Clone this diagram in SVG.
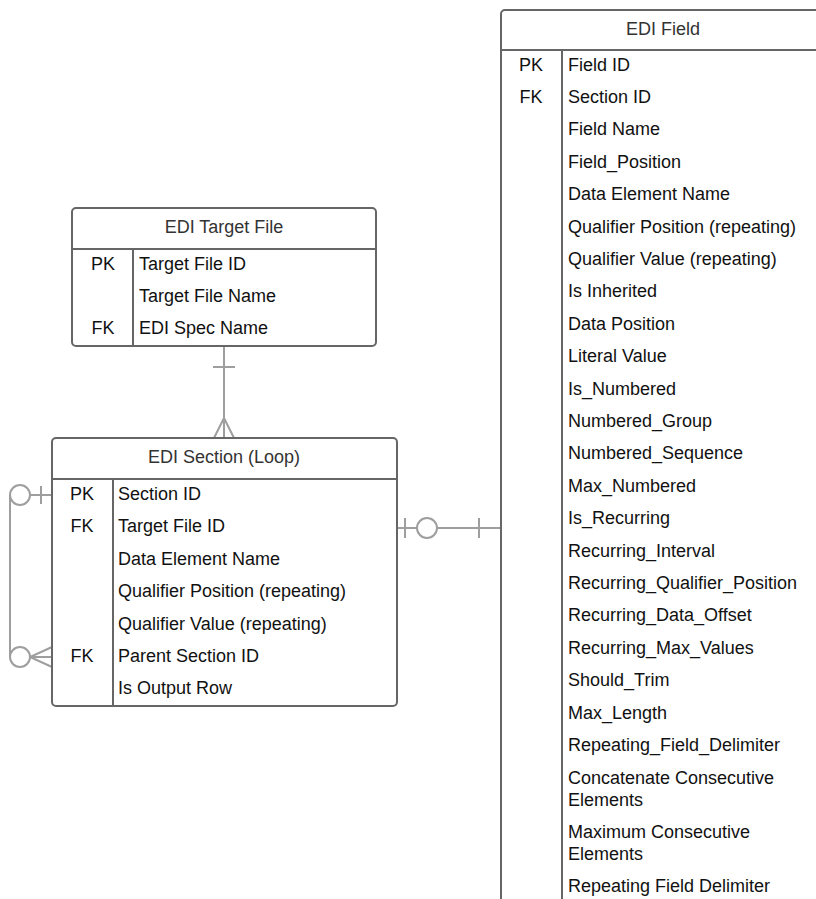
<svg xmlns="http://www.w3.org/2000/svg" width="816" height="899" viewBox="0 0 816 899">
<style>
.box{fill:#fff;stroke:#666;stroke-width:2}
.div{stroke:#666;stroke-width:2;fill:none}
.hdr{font-family:"Liberation Sans",Arial,sans-serif;font-size:18px;fill:#333;text-anchor:middle}
.t{font-family:"Liberation Sans",Arial,sans-serif;font-size:18px;fill:#111}
.k{font-family:"Liberation Sans",Arial,sans-serif;font-size:18px;fill:#111;text-anchor:middle}
.c{stroke:#9e9e9e;stroke-width:2;fill:none}
.cw{stroke:#9e9e9e;stroke-width:2;fill:#fff}
</style>
<rect width="816" height="899" fill="#fff"/>
<g id="connectors">
  <line class="c" x1="224" y1="346" x2="224" y2="438"/>
  <line class="c" x1="213" y1="367" x2="235" y2="367"/>
  <polyline class="c" points="214,438 224,418 234,438"/>
  <polyline class="c" points="52,495 30,495"/>
  <line class="c" x1="41" y1="486" x2="41" y2="504"/>
  <line class="c" x1="10" y1="495" x2="10" y2="657"/>
  <circle class="cw" cx="20" cy="495" r="10"/>
  <polyline class="c" points="52,647 30,657 52,667"/>
  <line class="c" x1="30" y1="657" x2="52" y2="657"/>
  <circle class="cw" cx="20" cy="657" r="10"/>
  <line class="c" x1="397" y1="528" x2="501" y2="528"/>
  <line class="c" x1="405" y1="518" x2="405" y2="538"/>
  <line class="c" x1="479" y1="518" x2="479" y2="538"/>
  <circle class="cw" cx="427" cy="528" r="10"/>
</g>
<g id="edi-target-file">
  <rect class="box" x="72" y="208" width="304" height="138" rx="4"/>
  <line class="div" x1="72" y1="249" x2="376" y2="249"/>
  <line class="div" x1="133" y1="249" x2="133" y2="346"/>
  <text class="hdr" x="224" y="232.5">EDI Target File</text>
  <text class="k" x="103" y="269.5">PK</text>
  <text class="t" x="139" y="269.5">Target File ID</text>
  <text class="t" x="139" y="301.5">Target File Name</text>
  <text class="k" x="103" y="333.5">FK</text>
  <text class="t" x="139" y="333.5">EDI Spec Name</text>
</g>
<g id="edi-section">
  <rect class="box" x="52" y="438" width="345" height="268" rx="4"/>
  <line class="div" x1="52" y1="479" x2="397" y2="479"/>
  <line class="div" x1="113" y1="479" x2="113" y2="706"/>
  <text class="hdr" x="224" y="462.5">EDI Section (Loop)</text>
  <text class="k" x="82" y="499.5">PK</text>
  <text class="t" x="118" y="499.5">Section ID</text>
  <text class="k" x="82" y="531.5">FK</text>
  <text class="t" x="118" y="531.5">Target File ID</text>
  <text class="t" x="118" y="564.5">Data Element Name</text>
  <text class="t" x="118" y="596.5">Qualifier Position (repeating)</text>
  <text class="t" x="118" y="629.5">Qualifier Value (repeating)</text>
  <text class="k" x="82" y="661.5">FK</text>
  <text class="t" x="118" y="661.5">Parent Section ID</text>
  <text class="t" x="118" y="693.5">Is Output Row</text>
</g>
<g id="edi-field">
  <rect class="box" x="501" y="10" width="330" height="920" rx="4"/>
  <line class="div" x1="501" y1="50" x2="831" y2="50"/>
  <line class="div" x1="562" y1="50" x2="562" y2="930"/>
  <text class="hdr" x="663" y="34.5">EDI Field</text>
  <text class="k" x="531" y="70.5">PK</text>
  <text class="k" x="531" y="103">FK</text>
  <text class="t" x="568" y="70.5">Field ID</text>
  <text class="t" x="568" y="102.9">Section ID</text>
  <text class="t" x="568" y="135.3">Field Name</text>
  <text class="t" x="568" y="167.7">Field_Position</text>
  <text class="t" x="568" y="200.1">Data Element Name</text>
  <text class="t" x="568" y="232.5">Qualifier Position (repeating)</text>
  <text class="t" x="568" y="264.9">Qualifier Value (repeating)</text>
  <text class="t" x="568" y="297.3">Is Inherited</text>
  <text class="t" x="568" y="329.7">Data Position</text>
  <text class="t" x="568" y="362.1">Literal Value</text>
  <text class="t" x="568" y="394.5">Is_Numbered</text>
  <text class="t" x="568" y="426.9">Numbered_Group</text>
  <text class="t" x="568" y="459.3">Numbered_Sequence</text>
  <text class="t" x="568" y="491.7">Max_Numbered</text>
  <text class="t" x="568" y="524.1">Is_Recurring</text>
  <text class="t" x="568" y="556.5">Recurring_Interval</text>
  <text class="t" x="568" y="588.9">Recurring_Qualifier_Position</text>
  <text class="t" x="568" y="621.3">Recurring_Data_Offset</text>
  <text class="t" x="568" y="653.7">Recurring_Max_Values</text>
  <text class="t" x="568" y="686.1">Should_Trim</text>
  <text class="t" x="568" y="718.5">Max_Length</text>
  <text class="t" x="568" y="750.9">Repeating_Field_Delimiter</text>
  <text class="t" x="568" y="783.5">Concatenate Consecutive</text>
  <text class="t" x="568" y="805.5">Elements</text>
  <text class="t" x="568" y="837.5">Maximum Consecutive</text>
  <text class="t" x="568" y="859.5">Elements</text>
  <text class="t" x="568" y="891.5">Repeating Field Delimiter</text>
</g>
</svg>
